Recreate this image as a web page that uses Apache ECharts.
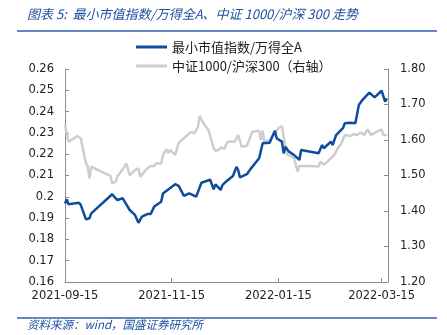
<!DOCTYPE html>
<html><head><meta charset="utf-8">
<script src="https://cdn.jsdelivr.net/npm/echarts@6/dist/echarts.min.js"></script>
<style>html,body{margin:0;padding:0;background:#fff}#c{width:447px;height:335px}</style>
</head><body><div id="c"></div>
<script>
var titleText = '图表 5:  最小市值指数/万得全A、中证 1000/沪深 300 走势';
var sourceText = '资料来源：wind，国盛证券研究所';
var seriesNames = ['最小市值指数/万得全A', '中证1000/沪深300（右轴）'];
var xTickDates = ['2021-09-15', '2021-11-15', '2022-01-15', '2022-03-15'];
var leftTicks = {min: 0.16, max: 0.26, interval: 0.01};
var rightTicks = {min: 1.2, max: 1.8, interval: 0.1};

var smallCapDates = ['2021-09-15','2021-09-16','2021-09-17','2021-09-23','2021-09-24','2021-09-27','2021-09-29','2021-09-30','2021-10-12','2021-10-13','2021-10-15','2021-10-18','2021-10-19','2021-10-22','2021-10-25','2021-10-27','2021-10-29','2021-11-01','2021-11-02','2021-11-03','2021-11-05','2021-11-09','2021-11-10','2021-11-11','2021-11-17','2021-11-19','2021-11-22','2021-11-25','2021-11-29','2021-12-02','2021-12-03','2021-12-07','2021-12-09','2021-12-10','2021-12-13','2021-12-14','2021-12-16','2021-12-20','2021-12-22','2021-12-23','2021-12-24','2021-12-28','2021-12-30','2021-12-31','2022-01-04','2022-01-06','2022-01-10','2022-01-13','2022-01-14','2022-01-17','2022-01-18','2022-01-19','2022-01-21','2022-01-24','2022-01-27','2022-01-28','2022-02-07','2022-02-09','2022-02-10','2022-02-14','2022-02-15','2022-02-17','2022-02-21','2022-02-22','2022-02-23','2022-02-25','2022-02-28','2022-03-02','2022-03-04','2022-03-08','2022-03-11','2022-03-15','2022-03-17','2022-03-18'];
var smallCapValues = [0.1969,0.1988,0.1965,0.1972,0.1962,0.1894,0.1899,0.1922,0.2012,0.2001,0.1985,0.1993,0.1985,0.1938,0.1915,0.1878,0.1907,0.1919,0.1925,0.1919,0.1954,0.1977,0.2016,0.2008,0.2059,0.2051,0.2004,0.2016,0.2001,0.2066,0.2065,0.2080,0.2035,0.2058,0.2032,0.2055,0.2071,0.2098,0.2140,0.2126,0.2091,0.2106,0.2130,0.2134,0.2181,0.2251,0.2254,0.2310,0.2275,0.2259,0.2204,0.2235,0.2212,0.2196,0.2173,0.2220,0.2204,0.2243,0.2228,0.2259,0.2243,0.2290,0.2324,0.2345,0.2342,0.2348,0.2345,0.2431,0.2454,0.2489,0.2467,0.2498,0.2447,0.2462];

var csiDates = ['2021-09-15','2021-09-17','2021-09-22','2021-09-24','2021-09-27','2021-09-28','2021-09-29','2021-09-30','2021-10-03','2021-10-11','2021-10-12','2021-10-14','2021-10-15','2021-10-16','2021-10-19','2021-10-20','2021-10-22','2021-10-25','2021-10-27','2021-10-28','2021-11-01','2021-11-03','2021-11-05','2021-11-06','2021-11-09','2021-11-10','2021-11-12','2021-11-13','2021-11-14','2021-11-17','2021-11-19','2021-11-22','2021-11-24','2021-11-26','2021-11-28','2021-11-30','2021-12-01','2021-12-03','2021-12-06','2021-12-08','2021-12-09','2021-12-10','2021-12-12','2021-12-13','2021-12-15','2021-12-17','2021-12-21','2021-12-23','2021-12-25','2021-12-28','2021-12-30','2021-12-31','2022-01-04','2022-01-05','2022-01-06','2022-01-07','2022-01-10','2022-01-13','2022-01-15','2022-01-17','2022-01-19','2022-01-20','2022-01-22','2022-01-24','2022-01-26','2022-01-27','2022-02-02','2022-02-07','2022-02-08','2022-02-10','2022-02-13','2022-02-16','2022-02-18','2022-02-20','2022-02-22','2022-02-25','2022-02-27','2022-03-01','2022-03-03','2022-03-05','2022-03-07','2022-03-09','2022-03-12','2022-03-15','2022-03-16','2022-03-18'];
var csiValues = [1.642,1.595,1.611,1.605,1.534,1.525,1.492,1.525,1.517,1.499,1.478,1.483,1.497,1.499,1.525,1.534,1.501,1.515,1.520,1.497,1.520,1.527,1.527,1.534,1.534,1.558,1.574,1.563,1.572,1.558,1.592,1.605,1.614,1.623,1.619,1.637,1.668,1.648,1.628,1.595,1.577,1.570,1.572,1.579,1.575,1.595,1.595,1.614,1.581,1.584,1.609,1.623,1.626,1.600,1.626,1.595,1.600,1.619,1.633,1.639,1.581,1.558,1.555,1.548,1.511,1.527,1.527,1.525,1.539,1.530,1.544,1.558,1.577,1.591,1.614,1.611,1.617,1.614,1.621,1.614,1.630,1.614,1.623,1.630,1.614,1.614];

function pd(s){var p=s.split('-');return new Date(+p[0],+p[1]-1,+p[2]).getTime();}
function pair(d,v){return d.map(function(x,i){return [pd(x),v[i]];});}
function fmt(t){var d=new Date(t);var m=d.getMonth()+1,dd=d.getDate();return d.getFullYear()+'-'+(m<10?'0':'')+m+'-'+(dd<10?'0':'')+dd;}

var FONT = 'DejaVu Sans';
var CJK = '"Noto Sans CJK SC", sans-serif';
var blue = '#0d4c9e', gray = '#cdcdcd', axisC = '#8c8c8c', titleBlue = '#1f50a0';
var xTicks = xTickDates.map(pd);

var chart = echarts.init(document.getElementById('c'), null, {renderer:'canvas'});
chart.setOption({
  animation:false,
  backgroundColor:'#fff',
  grid:{left:65,right:59,top:69,bottom:53,containLabel:false},
  graphic:[
    {type:'text',left:27,top:8,style:{text:titleText,fill:titleBlue,font:'italic 13px '+CJK}},
    {type:'line',shape:{x1:17,y1:31,x2:437,y2:31},style:{stroke:'#2f5fab',lineWidth:1.5}},
    {type:'line',shape:{x1:17,y1:318,x2:437,y2:318},style:{stroke:'#2f5fab',lineWidth:1.5}},
    {type:'text',left:27,top:319,style:{text:sourceText,fill:titleBlue,font:'italic 11.5px '+CJK}}
  ],
  legend:{
    orient:'vertical',left:131,top:34,itemWidth:31,itemHeight:3,itemGap:3,icon:'rect',
    data:seriesNames,
    textStyle:{fontSize:13,color:'#222',fontFamily:CJK,lineHeight:16}
  },
  xAxis:{
    type:'value',min:pd('2021-09-15'),max:pd('2022-03-18')+16*3600000,
    axisLine:{lineStyle:{color:axisC,width:1}},
    axisTick:{show:true,inside:true,length:4,lineStyle:{color:axisC},customValues:xTicks},
    axisLabel:{customValues:xTicks,formatter:function(v){return fmt(v);},fontSize:11.5,color:'#222',fontFamily:FONT,margin:8},
    splitLine:{show:false}
  },
  yAxis:[
    {type:'value',min:leftTicks.min,max:leftTicks.max,interval:leftTicks.interval,position:'left',
     axisLine:{show:true,lineStyle:{color:axisC}},
     axisTick:{show:true,inside:true,length:4,lineStyle:{color:axisC}},
     axisLabel:{fontSize:11.5,color:'#222',fontFamily:FONT,margin:11},
     splitLine:{show:false}},
    {type:'value',min:rightTicks.min,max:rightTicks.max,interval:rightTicks.interval,position:'right',
     axisLine:{show:true,lineStyle:{color:axisC}},
     axisTick:{show:true,inside:true,length:4,lineStyle:{color:axisC}},
     axisLabel:{fontSize:11.5,color:'#222',fontFamily:FONT,margin:12,formatter:function(v){return v.toFixed(2);}},
     splitLine:{show:false}}
  ],
  series:[
    {name:seriesNames[0],type:'line',yAxisIndex:0,data:pair(smallCapDates,smallCapValues),symbol:'none',z:3,
     lineStyle:{color:blue,width:2.5},itemStyle:{color:blue}},
    {name:seriesNames[1],type:'line',yAxisIndex:1,data:pair(csiDates,csiValues),symbol:'none',z:2,
     lineStyle:{color:gray,width:2.5},itemStyle:{color:gray}}
  ]
});
</script></body></html>
